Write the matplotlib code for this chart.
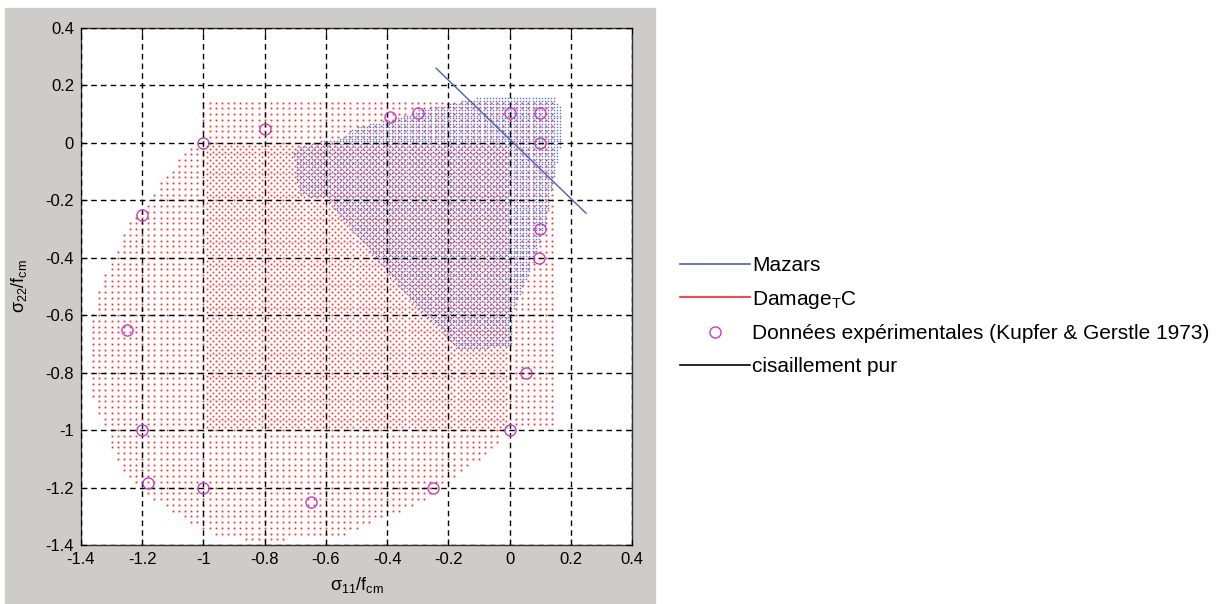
import numpy as np
import matplotlib
matplotlib.use('Agg')
import matplotlib.pyplot as plt
from matplotlib.path import Path
from matplotlib.patches import Rectangle
from matplotlib.lines import Line2D

plt.rcParams['font.family'] = ['Liberation Sans', 'DejaVu Sans']
plt.rcParams['mathtext.fontset'] = 'custom'
plt.rcParams['mathtext.rm'] = 'Liberation Sans'
plt.rcParams['mathtext.it'] = 'Liberation Sans'
plt.rcParams['mathtext.default'] = 'regular'

# Damage_TC envelope (red dotted domain)
damage_x = [-1.0, 0.15, 0.15, -0.02, -0.03, -0.075, -0.13, -0.17, -0.22, -0.27, -0.35,
            -0.43, -0.49, -0.555, -0.855, -0.99, -1.055, -1.11, -1.175, -1.2, -1.24,
            -1.275, -1.295, -1.312, -1.315, -1.338, -1.354, -1.371, -1.371, -1.354,
            -1.331, -1.315, -1.295, -1.282, -1.256, -1.233, -1.175, -1.152, -1.116,
            -1.077, -1.044, -1.0]
damage_y = [0.15, 0.15, -0.99, -1.0, -1.035, -1.08, -1.128, -1.156, -1.2, -1.236, -1.278,
            -1.313, -1.341, -1.376, -1.383, -1.355, -1.313, -1.278, -1.236, -1.2, -1.174,
            -1.128, -1.087, -1.045, -1.007, -0.965, -0.906, -0.86, -0.651, -0.547,
            -0.477, -0.425, -0.383, -0.366, -0.31, -0.261, -0.206, -0.147, -0.101,
            -0.053, -0.018, 0.0]
# denser part of the Damage_TC sampling (third quadrant)
dense_x = [-1.0, 0.0, 0.0, -1.0]
dense_y = [0.0, 0.0, -1.0, -1.0]

# Mazars envelope (blue dotted domain)
mazars_x = [-0.054, 0.14, 0.17, 0.17, 0.155, 0.139, 0.122, 0.067, 0.008, 0.005, -0.172,
            -0.227, -0.325, -0.40, -0.479, -0.554, -0.596, -0.691, -0.707, -0.685,
            -0.554, -0.511, -0.368, -0.283, -0.054]
mazars_y = [0.165, 0.165, 0.12, 0.0, -0.07, -0.147, -0.262, -0.449, -0.592, -0.711, -0.721,
            -0.651, -0.547, -0.45, -0.345, -0.262, -0.192, -0.181, -0.032, -0.007,
            0.017, 0.052, 0.087, 0.121, 0.165]

# pure shear line
shear_x = [-0.24, 0.25]
shear_y = [0.26, -0.245]

# Kupfer & Gerstle 1973
exp_x = [-0.39, -0.3, 0.0, 0.1, 0.1, -0.8, -1.0, -1.2, 0.1, 0.095, -1.25, 0.055, 0.0,
         -1.2, -1.18, -1.0, -0.65, -0.25]
exp_y = [0.09, 0.105, 0.105, 0.105, 0.0, 0.05, 0.0, -0.25, -0.3, -0.4, -0.65, -0.8, -1.0,
         -1.0, -1.185, -1.2, -1.25, -1.2]

ticks = [-1.4, -1.2, -1.0, -0.8, -0.6, -0.4, -0.2, 0.0, 0.2, 0.4]
tick_labels = ['-1.4', '-1.2', '-1', '-0.8', '-0.6', '-0.4', '-0.2', '0', '0.2', '0.4']


def dots_inside(xv, yv, step, offset, clip=None):
    gx, gy = np.meshgrid(np.arange(-1.4 + offset, 0.4, step),
                         np.arange(-1.4 + offset, 0.4, step))
    pts = np.column_stack([gx.ravel(), gy.ravel()])
    inside = Path(np.column_stack([xv, yv])).contains_points(pts)
    if clip is not None:
        inside &= Path(np.column_stack(clip)).contains_points(pts)
    return pts[inside]


fig = plt.figure(figsize=(12.18, 6.04), dpi=100)
fig.patches.append(Rectangle((5 / 1218, 0), 650 / 1218, 596 / 604,
                             transform=fig.transFigure, color='#cdcccb', zorder=-5))
ax = fig.add_axes([81 / 1218, 59 / 604, 551 / 1218, 517 / 604])
ax.set_facecolor('white')

red = '#ff2a2a'
blue = '#5a76c8'

p = dots_inside(damage_x, damage_y, 0.02, 0.0)
ax.plot(p[:, 0], p[:, 1], 's', color=red, ms=1.3, mew=0, zorder=1)
p = dots_inside(damage_x, damage_y, 0.02, 0.01, clip=(dense_x, dense_y))
ax.plot(p[:, 0], p[:, 1], 's', color=red, ms=1.2, mew=0, zorder=1)
p = dots_inside(mazars_x, mazars_y, 0.01, 0.005)
ax.plot(p[:, 0], p[:, 1], 's', color=blue, ms=1.05, mew=0, zorder=2)

ax.plot(shear_x, shear_y, color='#4a64b4', lw=1.0, zorder=4)
ax.plot(exp_x, exp_y, 'o', mfc='none', mec='#c040c0', ms=8, mew=1.0, zorder=5)

ax.set_xlim(-1.4, 0.4)
ax.set_ylim(-1.4, 0.4)
ax.set_xticks(ticks)
ax.set_xticklabels(tick_labels)
ax.set_yticks(ticks)
ax.set_yticklabels(tick_labels)
ax.tick_params(direction='in', length=4, labelsize=12, top=True, right=True, pad=5)
ax.set_axisbelow(False)
ax.grid(True, color='black', linestyle=(0, (4, 3)), linewidth=1.0)
for s in ax.spines.values():
    s.set_linewidth(1.0)
    s.set_color('#333333')

ax.set_xlabel(r'$\sigma_{11}/f_{cm}$', fontsize=13, labelpad=6)
ax.set_ylabel(r'$\sigma_{22}/f_{cm}$', fontsize=13, labelpad=12)

handles = [Line2D([], [], color='#4a64b4', lw=1.2),
           Line2D([], [], color='#ff2020', lw=1.2),
           Line2D([], [], marker='o', ls='none', mfc='none', mec='#c040c0', ms=8),
           Line2D([], [], color='black', lw=1.2)]
labels = ['Mazars', 'Damage$_T$C', 'Données expérimentales (Kupfer & Gerstle 1973)',
          'cisaillement pur']
fig.legend(handles, labels, loc='upper left', bbox_to_anchor=(680 / 1218, 1 - 256 / 604),
           frameon=False, fontsize=15, handlelength=3.35, handletextpad=0.1,
           borderpad=0, borderaxespad=0, labelspacing=0.66)

plt.savefig('out.png', dpi=100, facecolor='white')
